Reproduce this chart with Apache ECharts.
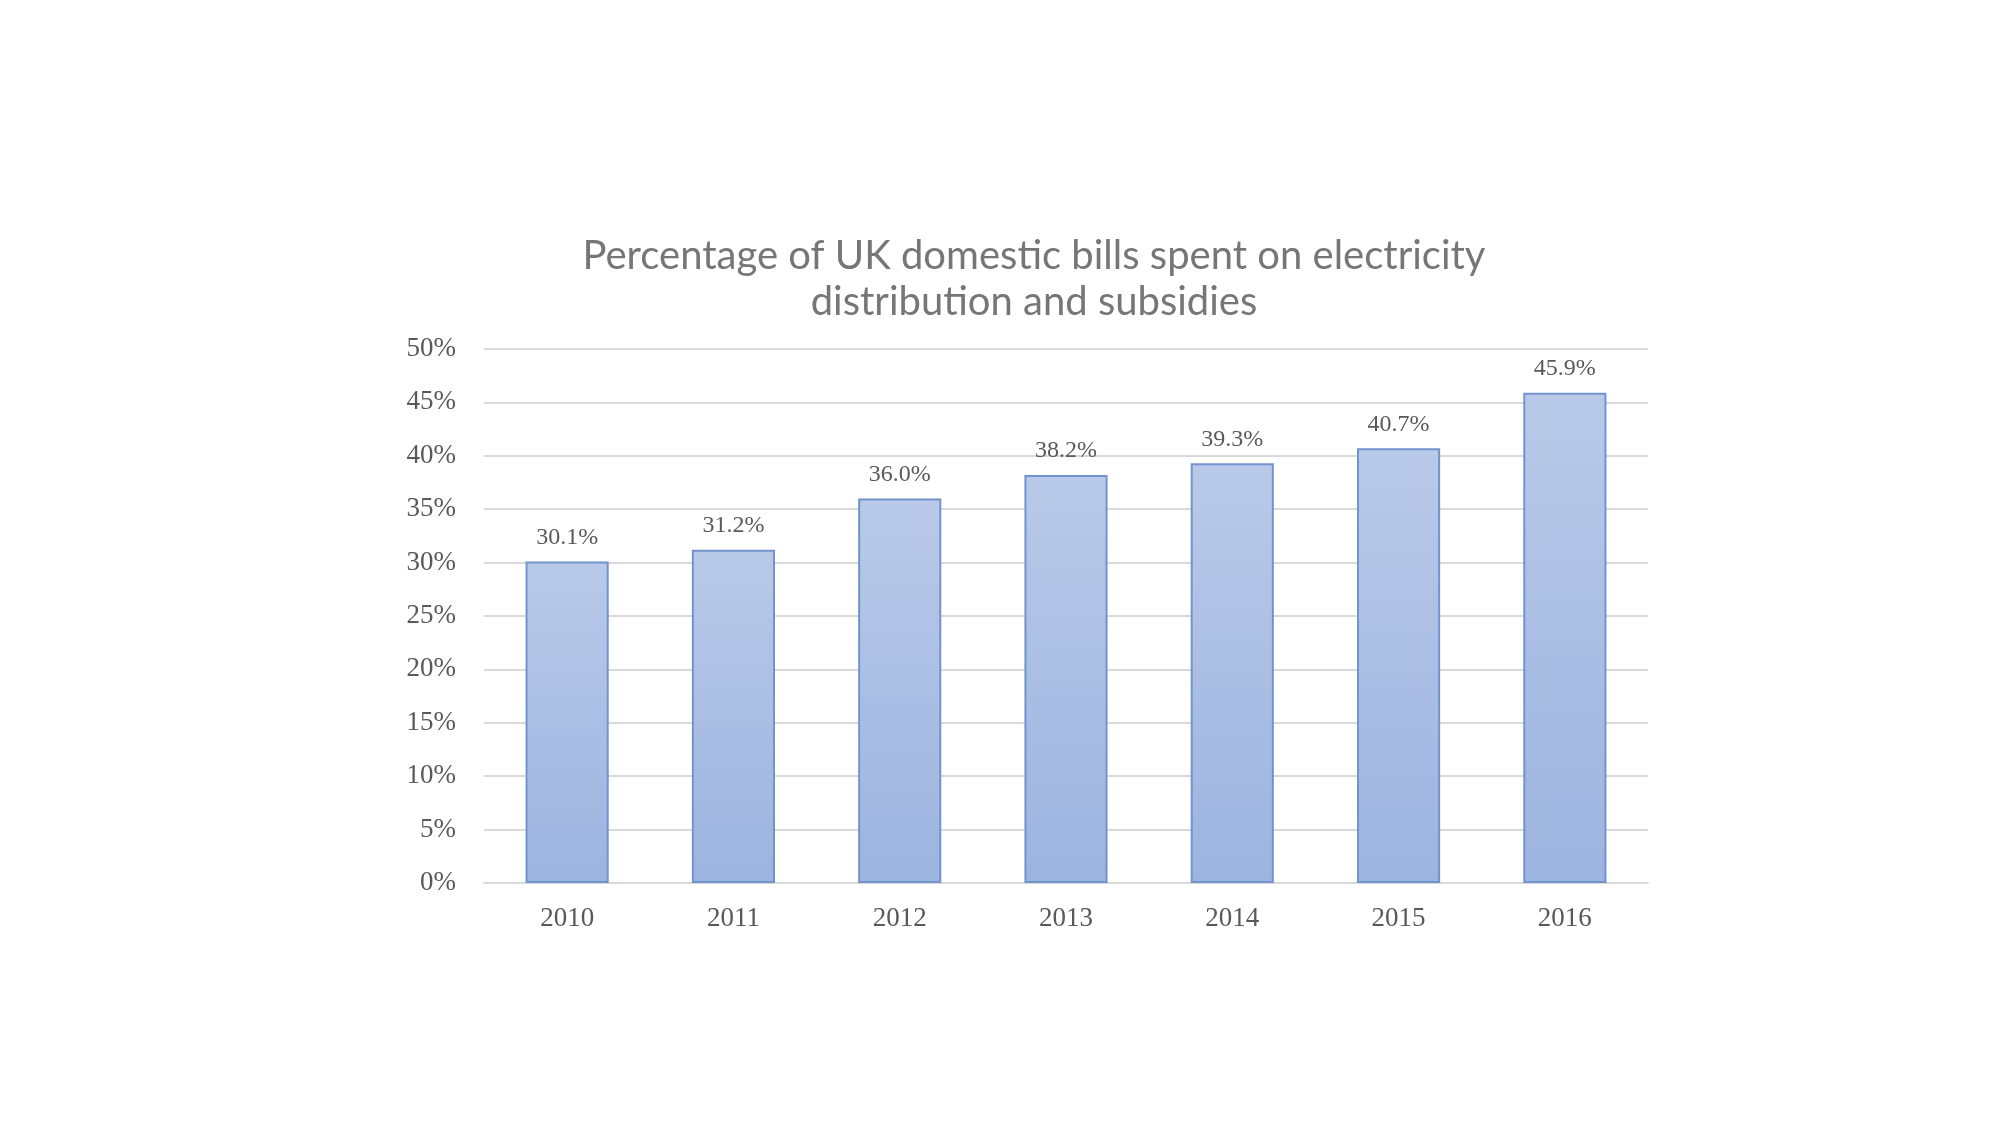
<!DOCTYPE html><html><head><meta charset="utf-8"><script src="https://cdn.jsdelivr.net/npm/echarts@6/dist/echarts.min.js"></script></head><body style="margin:0;background:#fff"><div id="c" style="width:2000px;height:1125px"></div><script>
const categories=['2010','2011','2012','2013','2014','2015','2016'];
const values=[30.1,31.2,36.0,38.2,39.3,40.7,45.9];
const chart=echarts.init(document.getElementById('c'));
chart.setOption({
 backgroundColor:'#fff',
 title:{text:'Percentage of UK domestic bills spent on electricity\ndistribution and subsidies',left:1029,textAlign:'center',top:228,textStyle:{fontFamily:'Lato',fontWeight:'normal',fontSize:40,color:'#767676',lineHeight:46}},
 grid:{left:484,right:352,top:349,bottom:242},
 xAxis:{type:'category',data:categories,axisTick:{show:false},axisLine:{lineStyle:{color:'#d9d9d9',width:2}},axisLabel:{fontFamily:'Liberation Serif',fontSize:27,color:'#595959',margin:22}},
 yAxis:{type:'value',min:0,max:50,interval:5,axisLabel:{formatter:'{value}%',fontFamily:'Liberation Serif',fontSize:27,color:'#595959',margin:28},splitLine:{lineStyle:{color:'#d9d9d9',width:2}}},
 series:[{type:'bar',data:values,barWidth:'50%',
  itemStyle:{borderColor:'#7294cd',borderWidth:2,color:new echarts.graphic.LinearGradient(0,0,0,1,[{offset:0,color:'#b9c9e8'},{offset:1,color:'#9cb4e0'}])},
  label:{show:true,position:'top',distance:12,formatter:p=>p.value.toFixed(1)+'%',fontFamily:'Liberation Serif',fontSize:24,color:'#595959'}}]
});
</script></body></html>
